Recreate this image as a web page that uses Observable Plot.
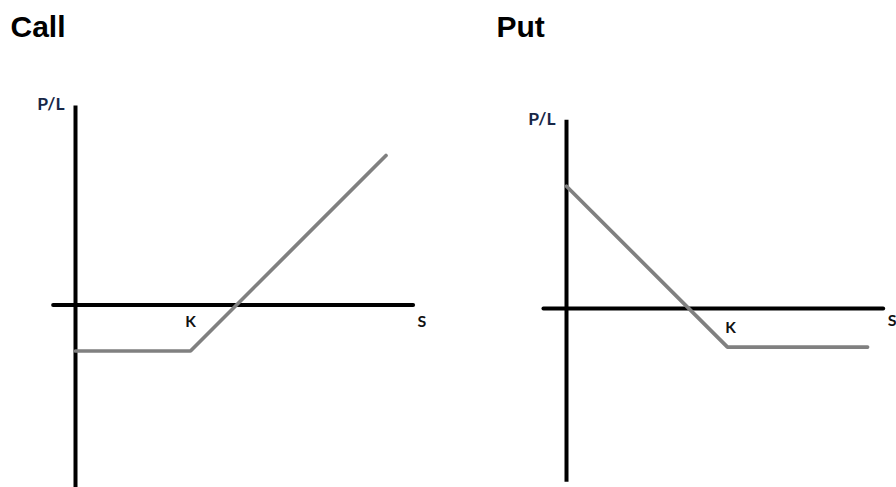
<!DOCTYPE html>
<html><head><meta charset="utf-8">
<script src="https://cdn.jsdelivr.net/npm/d3@7"></script>
<script src="https://cdn.jsdelivr.net/npm/@observablehq/plot@0.6"></script>
<style>
html,body{margin:0;padding:0;background:#fff;overflow:hidden;}
#wrap{display:flex;width:896px;height:487px;}
#wrap > *{flex:none;}
</style></head><body><div id="wrap"></div>
<script>
// ---- data ----
const titles = ["Call", "Put"];
const strike = 100;
const callS = [0, 100, 270];
const callPL = [-40, -40, 130];
const putS = [0, 100, 187];
const putPL = [76, -24, -24];
const callAxisS = [-19, 294];
const callAxisPL = [-160, 173];
const putAxisS = [-14, 197];
const putAxisPL = [-108, 117];
const axisLabels = ["P/L", "K", "S"];

function panel(cfg) {
  const pts = cfg.S.map((s, i) => ({S: s, PL: cfg.PL[i]}));
  return Plot.plot({
    width: 448, height: 487,
    margin: 0,
    style: {background: "white", overflow: "visible"},
    x: {type: "linear", domain: [0, strike], range: cfg.xr, axis: null},
    y: {type: "linear", domain: [0, cfg.ylo], range: cfg.yr, axis: null},
    marks: [
      Plot.ruleY([0], {x1: cfg.axS[0], x2: cfg.axS[1], stroke: "black", strokeWidth: 4, strokeLinecap: "round"}),
      Plot.ruleX([0], {y1: cfg.axPL[0], y2: cfg.axPL[1], stroke: "black", strokeWidth: 4}),
      Plot.line(pts, {x: "S", y: "PL", stroke: "#808080", strokeWidth: 3.7, strokeLinecap: "round", strokeLinejoin: "miter"}),
      Plot.text([cfg.title], {frameAnchor: "top-left", textAnchor: "start", lineAnchor: "bottom", dx: cfg.tx, dy: 36,
        fontFamily: "Liberation Sans, Arial, sans-serif", fontWeight: "bold", fontSize: 30, fill: "black"}),
      Plot.text([{S: 0, PL: cfg.axPL[1], t: axisLabels[0]}], {x: "S", y: "PL", text: "t", textAnchor: "end", dx: -11, dy: cfg.plDy,
        fontFamily: "Lato, sans-serif", fontWeight: "bold", fontSize: 17.5, fill: "#172747"}),
      Plot.text([{S: strike, PL: 0, t: axisLabels[1]}], {x: "S", y: "PL", text: "t", textAnchor: "middle", dx: cfg.kDx, dy: cfg.kDy,
        fontFamily: "Lato, sans-serif", fontWeight: "bold", fontSize: 15.5, fill: "#111"}),
      Plot.text([{S: cfg.axS[1], PL: 0, t: axisLabels[2]}], {x: "S", y: "PL", text: "t", textAnchor: "start", dx: cfg.sDx, dy: cfg.sDy,
        fontFamily: "Lato, sans-serif", fontWeight: "bold", fontSize: 16, fill: "#111"})
    ]
  });
}

const wrap = document.getElementById("wrap");
wrap.appendChild(panel({
  title: titles[0], S: callS, PL: callPL, axS: callAxisS, axPL: callAxisPL,
  xr: [75, 190], ylo: -40, yr: [304.5, 350.5], tx: 10,
  plDy: -1.5, kDx: 0, kDy: 17.5, sDx: 4, sDy: 16.5
}));
wrap.appendChild(panel({
  title: titles[1], S: putS, PL: putPL, axS: putAxisS, axPL: putAxisPL,
  xr: [118, 279], ylo: -24, yr: [308, 346.6], tx: 48,
  plDy: -1, kDx: 3, kDy: 19.5, sDx: 4, sDy: 12
}));
</script></body></html>
